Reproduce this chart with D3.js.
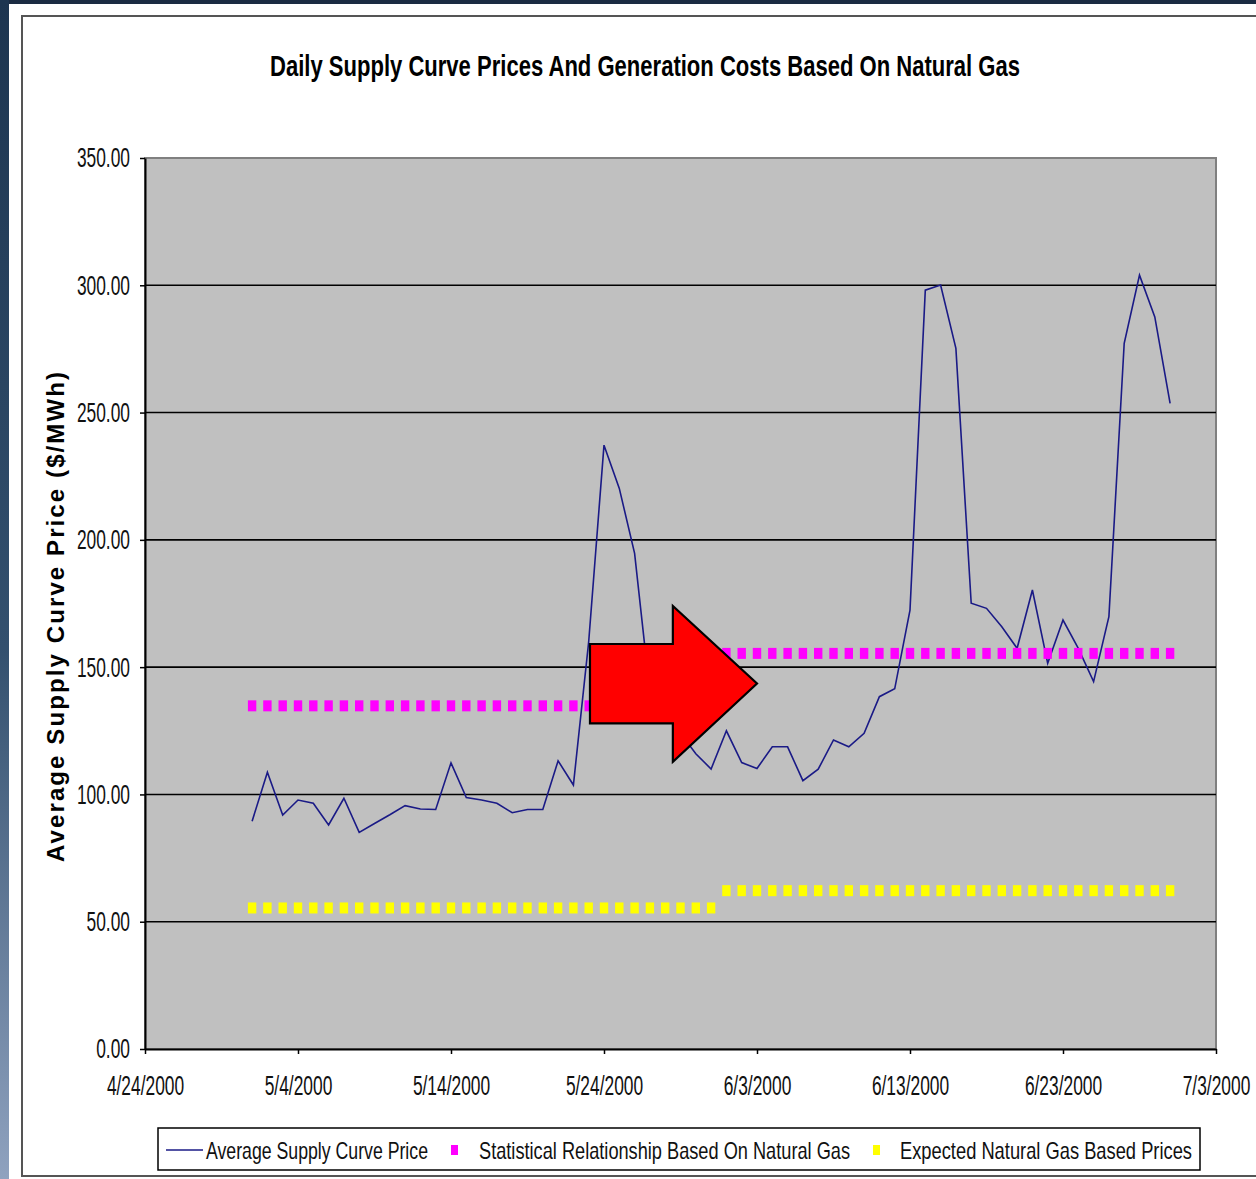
<!DOCTYPE html>
<html>
<head>
<meta charset="utf-8">
<script src="https://cdn.jsdelivr.net/npm/d3@7"></script>
<style>
  body { margin: 0; background: #1b2b42; }
  svg { display: block; }
  text { font-family: "Liberation Sans", Arial, sans-serif; }
</style>
</head>
<body>
<svg width="1256" height="1179"></svg>
<script>
// Daily values 5/1/2000 .. 6/30/2000
const avgPrice = [
  89.5, 108.7, 91.9, 97.8, 96.5, 88.0, 98.5, 85.1, 88.6, 92.0,
  95.6, 94.3, 94.1, 112.4, 98.8, 97.8, 96.5, 92.8, 94.1, 94.1,
  113.2, 103.7, 160.0, 237.2, 220.2, 194.7, 140.0, 132.0, 124.0, 116.0,
  110.0, 125.0, 112.5, 110.2, 118.7, 118.7, 105.4, 109.9, 121.4, 118.7,
  124.0, 138.4, 141.5, 172.4, 298.1, 300.1, 275.2, 175.1, 173.1, 165.9,
  157.4, 180.3, 151.5, 168.5, 157.4, 144.3, 169.8, 277.2, 304.0, 287.6,
  253.6
];
const firstDay = "5/1/2000";

// monthly constant series (square markers, one per day)
const monthStarts = ["5/1/2000", "6/1/2000"];
const monthEnds = ["5/31/2000", "6/30/2000"];
const statValues = [134.8, 155.4];
const gasValues = [55.4, 62.2];

const tickLabels = ["4/24/2000", "5/4/2000", "5/14/2000", "5/24/2000",
  "6/3/2000", "6/13/2000", "6/23/2000", "7/3/2000"];
const yTicks = [0, 50, 100, 150, 200, 250, 300, 350];

// arrow annotation, in days after 4/24/2000 and $/MWh
const arrowDays = [29.1, 34.5, 40.0];
const arrowPrices = [112.8, 127.9, 143.6, 159.1, 174.0];

const parse = d3.timeParse("%m/%d/%Y");
const fmt = d3.timeFormat("%-m/%-d/%Y");
const tickDates = tickLabels.map(parse);

const plot = { left: 145, top: 158, right: 1216, bottom: 1049 };

const svg = d3.select("svg");

// backdrop
const defs = svg.append("defs");
const grad = defs.append("linearGradient").attr("id", "side")
  .attr("x1", 0).attr("y1", 0).attr("x2", 0).attr("y2", 1);
grad.append("stop").attr("offset", "0%").attr("stop-color", "#1d3550");
grad.append("stop").attr("offset", "55%").attr("stop-color", "#33506e");
grad.append("stop").attr("offset", "100%").attr("stop-color", "#8fa2bf");
svg.append("rect").attr("width", 1256).attr("height", 1179).attr("fill", "#1b2b42");
svg.append("rect").attr("x", 0).attr("y", 0).attr("width", 9).attr("height", 1179).attr("fill", "url(#side)");
svg.append("rect").attr("x", 9).attr("y", 4).attr("width", 1247).attr("height", 1175).attr("fill", "#ffffff");
svg.append("rect").attr("x", 22).attr("y", 16).attr("width", 1250).attr("height", 1160)
  .attr("fill", "none").attr("stroke", "#555").attr("stroke-width", 2);

const x = d3.scaleTime().domain([tickDates[0], tickDates[tickDates.length - 1]])
  .range([plot.left, plot.right]);
const y = d3.scaleLinear().domain([0, 350]).range([plot.bottom, plot.top]);

function squeeze(sel, k) {
  sel.each(function () {
    const w = this.getComputedTextLength();
    d3.select(this).attr("textLength", w * k).attr("lengthAdjust", "spacingAndGlyphs");
  });
}

// plot area
svg.append("rect")
  .attr("x", plot.left).attr("y", plot.top)
  .attr("width", plot.right - plot.left).attr("height", plot.bottom - plot.top)
  .attr("fill", "#c0c0c0").attr("stroke", "#808080").attr("stroke-width", 2);

svg.append("g").selectAll("line")
  .data(yTicks.filter(v => v > 0 && v < 350))
  .join("line")
  .attr("x1", plot.left).attr("x2", plot.right)
  .attr("y1", d => y(d)).attr("y2", d => y(d))
  .attr("stroke", "#000").attr("stroke-width", 1.6);

// axes
const yAxis = svg.append("g")
  .attr("transform", `translate(${plot.left},0)`)
  .call(d3.axisLeft(y).tickValues(yTicks).tickSize(5).tickSizeOuter(0)
    .tickPadding(10).tickFormat(d3.format(".2f")));
const xAxis = svg.append("g")
  .attr("transform", `translate(0,${plot.bottom})`)
  .call(d3.axisBottom(x).tickValues(tickDates).tickSize(5).tickSizeOuter(0)
    .tickPadding(21).tickFormat(fmt));

[yAxis, xAxis].forEach(g => {
  g.select(".domain").attr("stroke", "#000").attr("stroke-width", 2);
  g.selectAll(".tick line").attr("stroke", "#000").attr("stroke-width", 1.5);
  g.selectAll("text").attr("font-size", 28).attr("font-family", "Liberation Sans, Arial, sans-serif")
    .attr("fill", "#111");
});
squeeze(yAxis.selectAll("text"), 0.62);
squeeze(xAxis.selectAll("text"), 0.62);

// average price line
const dates = d3.timeDay.range(parse(firstDay), d3.timeDay.offset(parse(firstDay), avgPrice.length));
const series = dates.map((d, i) => ({ date: d, value: avgPrice[i] }));
svg.append("path")
  .datum(series)
  .attr("fill", "none")
  .attr("stroke", "#1a1a86")
  .attr("stroke-width", 1.6)
  .attr("d", d3.line().x(d => x(d.date)).y(d => y(d.value)));

// square markers for monthly series
function monthly(values) {
  const out = [];
  values.forEach((v, i) => {
    const s = parse(monthStarts[i]);
    const e = d3.timeDay.offset(parse(monthEnds[i]), 1);
    d3.timeDay.range(s, e).forEach(d => out.push({ date: d, value: v }));
  });
  return out;
}
[[statValues, "#ff00ff"], [gasValues, "#ffff00"]].forEach(([vals, col]) => {
  svg.append("g").selectAll("rect")
    .data(monthly(vals))
    .join("rect")
    .attr("x", d => x(d.date) - 4.2)
    .attr("y", d => y(d.value) - 5.5)
    .attr("width", 8.4).attr("height", 11)
    .attr("fill", col);
});

// arrow
const day0 = tickDates[0];
const ax = arrowDays.map(d => x(d3.timeHour.offset(day0, Math.round(d * 24))));
const ay = arrowPrices.map(v => y(v));
const arrowPts = [
  [ax[0], ay[3]], [ax[1], ay[3]], [ax[1], ay[4]], [ax[2], ay[2]],
  [ax[1], ay[0]], [ax[1], ay[1]], [ax[0], ay[1]]
];
svg.append("polygon")
  .attr("points", arrowPts.map(p => p.join(",")).join(" "))
  .attr("fill", "#ff0000").attr("stroke", "#000").attr("stroke-width", 2.2)
  .attr("stroke-linejoin", "miter");

// titles
svg.append("text")
  .attr("x", 645).attr("y", 76)
  .attr("text-anchor", "middle")
  .attr("font-size", 30).attr("font-weight", "bold")
  .attr("textLength", 750).attr("lengthAdjust", "spacingAndGlyphs")
  .text("Daily Supply Curve Prices And Generation Costs Based On Natural Gas");

svg.append("text")
  .attr("transform", "translate(64,617) rotate(-90)")
  .attr("text-anchor", "middle")
  .attr("font-size", 24).attr("font-weight", "bold")
  .attr("textLength", 490).attr("lengthAdjust", "spacing")
  .text("Average Supply Curve Price ($/MWh)");

// legend
const leg = svg.append("g");
leg.append("rect").attr("x", 158).attr("y", 1128).attr("width", 1042).attr("height", 42)
  .attr("fill", "#fff").attr("stroke", "#000").attr("stroke-width", 1.5);
leg.append("line").attr("x1", 166).attr("x2", 203).attr("y1", 1150).attr("y2", 1150)
  .attr("stroke", "#1a1a86").attr("stroke-width", 1.6);
leg.append("rect").attr("x", 451).attr("y", 1145).attr("width", 7).attr("height", 10).attr("fill", "#ff00ff");
leg.append("rect").attr("x", 873).attr("y", 1145).attr("width", 7).attr("height", 10).attr("fill", "#ffff00");
const legendItems = [
  ["Average Supply Curve Price", 206, 222],
  ["Statistical Relationship Based On Natural Gas", 479, 371],
  ["Expected Natural Gas Based Prices", 900, 292]
];
leg.selectAll("text.item").data(legendItems).join("text")
  .attr("class", "item")
  .attr("x", d => d[1]).attr("y", 1159)
  .attr("font-size", 24)
  .attr("fill", "#111")
  .attr("textLength", d => d[2]).attr("lengthAdjust", "spacingAndGlyphs")
  .text(d => d[0]);
</script>
</body>
</html>
